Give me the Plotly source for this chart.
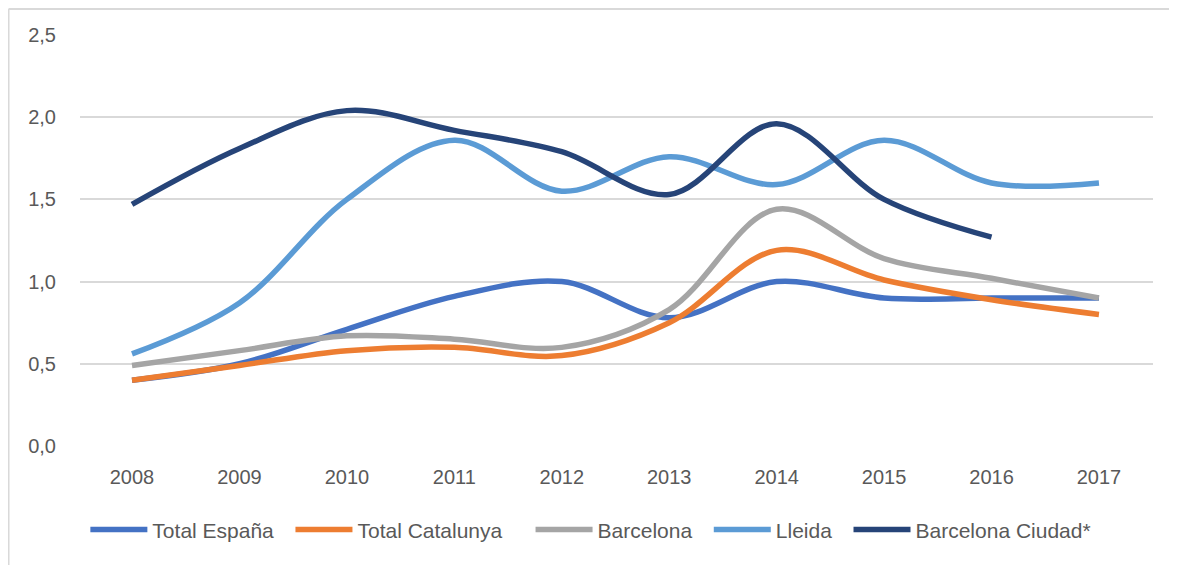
import plotly.graph_objects as go

# Datos (2008-2017)
years = ["2008", "2009", "2010", "2011", "2012", "2013", "2014", "2015", "2016", "2017"]

total_espana = [0.40, 0.50, 0.71, 0.91, 1.00, 0.78, 1.00, 0.90, 0.90, 0.90]
total_catalunya = [0.40, 0.49, 0.58, 0.60, 0.55, 0.75, 1.19, 1.01, 0.89, 0.80]
barcelona = [0.49, 0.58, 0.67, 0.65, 0.60, 0.83, 1.44, 1.14, 1.02, 0.90]
lleida = [0.56, 0.87, 1.50, 1.86, 1.55, 1.76, 1.59, 1.86, 1.60, 1.60]
barcelona_ciudad = [1.47, 1.81, 2.04, 1.92, 1.79, 1.53, 1.96, 1.50, 1.27, None]

y_ticks = [0, 0.5, 1.0, 1.5, 2.0, 2.5]
y_labels = ["0,0", "0,5", "1,0", "1,5", "2,0", "2,5"]

series = [
    ("Total España", total_espana, "#4472C4", 2),
    ("Total Catalunya", total_catalunya, "#ED7D31", 4),
    ("Barcelona", barcelona, "#A5A5A5", 2),
    ("Lleida", lleida, "#5B9BD5", 2),
    ("Barcelona Ciudad*", barcelona_ciudad, "#264478", 2),
]

FONT = "Liberation Sans, Arial, sans-serif"
GREY = "#595959"

fig = go.Figure()
for name, vals, color, pad in series:
    # espacios duros al final para separar las entradas de la leyenda
    fig.add_trace(go.Scatter(
        x=years, y=vals, name=name + "\u00a0" * pad, mode="lines",
        line=dict(color=color, width=5.5, shape="spline", smoothing=1.0),
    ))

# la página html añade 8 px de margen al body: se compensa aquí
fig.update_layout(
    width=1169, height=557,
    margin=dict(l=72, r=24, t=27, b=119),
    paper_bgcolor="white", plot_bgcolor="white",
    font=dict(family=FONT, size=20, color=GREY),
    showlegend=True,
    legend=dict(
        orientation="h", x=0.005, xanchor="left", y=-0.204, yanchor="middle",
        font=dict(size=21, color=GREY), itemwidth=57, traceorder="normal",
    ),
    xaxis=dict(
        showgrid=False, zeroline=False, showline=False, ticks="",
        tickfont=dict(size=20, color=GREY), range=[-0.484, 9.503],
        ticklabelstandoff=17,
    ),
    yaxis=dict(
        range=[0, 2.5], tickvals=y_ticks, ticktext=y_labels,
        showgrid=True, gridcolor="#D9D9D9", gridwidth=1.5,
        zeroline=False, showline=False, ticks="",
        tickfont=dict(size=20, color=GREY), ticklabelstandoff=23,
    ),
    shapes=[
        # marco del gráfico (borde izquierdo y superior)
        dict(type="line", xref="paper", yref="paper", x0=-0.0666, x1=-0.0666,
             y0=-0.4, y1=1.0633, line=dict(color="#D9D9D9", width=2)),
        dict(type="line", xref="paper", yref="paper", x0=-0.0666, x1=1.03,
             y0=1.0633, y1=1.0633, line=dict(color="#D9D9D9", width=2)),
    ],
)

fig.write_html("out.html")
